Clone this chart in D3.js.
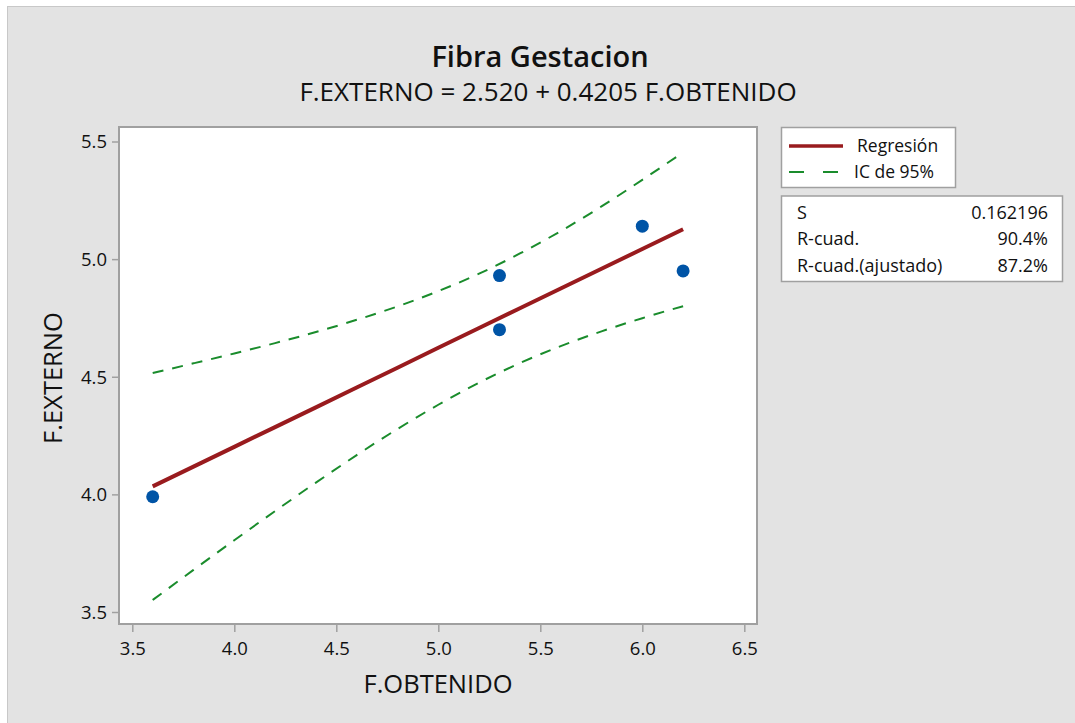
<!DOCTYPE html>
<html><head><meta charset="utf-8">
<script src="https://cdn.jsdelivr.net/npm/d3@7"></script>
<style>body{margin:0;background:#fff;}svg{display:block;font-family:"Open Sans","Noto Sans",sans-serif;font-weight:500;}</style>
</head><body><svg id="c" width="1075" height="723"></svg>
<script>
const title = "Fibra Gestacion";
const subtitle = "F.EXTERNO = 2.520 + 0.4205 F.OBTENIDO";
const xLabel = "F.OBTENIDO";
const yLabel = "F.EXTERNO";
const xTicks = [3.5, 4.0, 4.5, 5.0, 5.5, 6.0, 6.5];
const yTicks = [3.5, 4.0, 4.5, 5.0, 5.5];
const obsX = [3.6, 5.3, 5.3, 6.0, 6.2];
const obsY = [3.99, 4.93, 4.70, 5.14, 4.95];
const curveX = [3.6, 3.8, 4.0, 4.2, 4.4, 4.6, 4.8, 5.0, 5.2, 5.4, 5.6, 5.8, 6.0, 6.2];
const fitY   = [4.034, 4.118, 4.202, 4.286, 4.370, 4.454, 4.538, 4.623, 4.707, 4.791, 4.875, 4.959, 5.043, 5.127];
const upperY = [4.516, 4.557, 4.599, 4.643, 4.690, 4.742, 4.799, 4.864, 4.938, 5.024, 5.119, 5.224, 5.337, 5.454];
const lowerY = [3.551, 3.679, 3.805, 3.929, 4.050, 4.167, 4.278, 4.381, 4.475, 4.558, 4.630, 4.693, 4.749, 4.800];
const legendItems = ["Regresión", "IC de 95%"];
const statNames = ["S", "R-cuad.", "R-cuad.(ajustado)"];
const statValues = ["0.162196", "90.4%", "87.2%"];

const svg = d3.select("#c");
svg.append("rect").attr("x",7.5).attr("y",6.5).attr("width",1075).attr("height",723)
  .attr("fill","#e3e3e3").attr("stroke","#c8c8c8").attr("stroke-width",1);

const frame = {l:119, r:757, t:127, b:624};
const x = d3.scaleLinear().domain([3.5, 6.5]).range([132.3, 744.3]);
const y = d3.scaleLinear().domain([3.5, 5.5]).range([612, 141.5]);

svg.append("rect").attr("x",frame.l).attr("y",frame.t).attr("width",frame.r-frame.l).attr("height",frame.b-frame.t)
  .attr("fill","#fff").attr("stroke","#a0a0a0").attr("stroke-width",2);

const xAxis = svg.append("g").attr("transform",`translate(0,${frame.b+1})`)
  .call(d3.axisBottom(x).tickValues(xTicks).tickFormat(d3.format(".1f")).tickSize(7).tickSizeOuter(0).tickPadding(6));
const yAxis = svg.append("g").attr("transform",`translate(${frame.l-1},0)`)
  .call(d3.axisLeft(y).tickValues(yTicks).tickFormat(d3.format(".1f")).tickSize(6).tickSizeOuter(0).tickPadding(5));
[xAxis,yAxis].forEach(a=>{
  a.select(".domain").remove();
  a.selectAll(".tick line").attr("stroke","#a0a0a0").attr("stroke-width",1.5);
  a.selectAll(".tick text").attr("fill","#111").style("font-size","18.5px").style("font-family","'Open Sans',sans-serif").style("font-weight","500");
});
xAxis.selectAll(".tick text").attr("dy","0.9em");
yAxis.selectAll(".tick text").attr("dy","0.35em");

const clip = svg.append("g");
const line = d3.line().x(d=>x(d[0])).y(d=>y(d[1]));
clip.append("path").datum(curveX.map((v,i)=>[v,upperY[i]])).attr("d",line.curve(d3.curveMonotoneX))
  .attr("fill","none").attr("stroke","#1a8c2c").attr("stroke-width",2).attr("stroke-dasharray","11,9");
clip.append("path").datum(curveX.map((v,i)=>[v,lowerY[i]])).attr("d",line.curve(d3.curveMonotoneX))
  .attr("fill","none").attr("stroke","#1a8c2c").attr("stroke-width",2).attr("stroke-dasharray","11,9");
clip.append("path").datum(curveX.map((v,i)=>[v,fitY[i]])).attr("d",line.curve(d3.curveLinear))
  .attr("fill","none").attr("stroke","#991b1e").attr("stroke-width",4).attr("stroke-linecap","butt");
clip.selectAll("circle").data(obsX.map((v,i)=>[v,obsY[i]])).enter().append("circle")
  .attr("cx",d=>x(d[0])).attr("cy",d=>y(d[1])).attr("r",6.5).attr("fill","#0054a6");

svg.append("text").attr("x",540).attr("y",67).attr("text-anchor","middle")
  .style("font-size","29px").style("font-weight","600").attr("fill","#111").text(title);
svg.append("text").attr("x",548).attr("y",101).attr("text-anchor","middle")
  .style("font-size","26px").attr("fill","#111").text(subtitle);
svg.append("text").attr("x",438).attr("y",693).attr("text-anchor","middle")
  .style("font-size","25.5px").attr("fill","#111").text(xLabel);
svg.append("text").attr("transform","translate(62,378) rotate(-90)").attr("text-anchor","middle")
  .style("font-size","25.5px").attr("fill","#111").text(yLabel);

// legend
svg.append("rect").attr("x",781.5).attr("y",127.5).attr("width",174).attr("height",60)
  .attr("fill","#fff").attr("stroke","#a0a0a0").attr("stroke-width",1.5);
const lg = svg.append("g");
lg.append("line").attr("x1",789).attr("x2",843).attr("y1",146).attr("y2",146).attr("stroke","#991b1e").attr("stroke-width",3.5);
lg.append("line").attr("x1",789).attr("x2",838).attr("y1",172).attr("y2",172).attr("stroke","#1a8c2c").attr("stroke-width",2).attr("stroke-dasharray","15,19");
lg.selectAll("text").data(legendItems).enter().append("text")
  .attr("x",(d,i)=>i===0?857:854).attr("y",(d,i)=>152+i*25.5).style("font-size","17.5px").attr("fill","#111").text(d=>d);

svg.append("rect").attr("x",781.5).attr("y",196).attr("width",281).attr("height",85.5)
  .attr("fill","#fff").attr("stroke","#a0a0a0").attr("stroke-width",1.5);
const st = svg.append("g");
st.selectAll("text.n").data(statNames).enter().append("text").attr("class","n")
  .attr("x",797).attr("y",(d,i)=>219+i*26.3).style("font-size","18px").attr("fill","#111").text(d=>d);
st.selectAll("text.v").data(statValues).enter().append("text").attr("class","v")
  .attr("x",1048).attr("y",(d,i)=>219+i*26.3).attr("text-anchor","end").style("font-size","18px").attr("fill","#111").text(d=>d);
</script></body></html>
